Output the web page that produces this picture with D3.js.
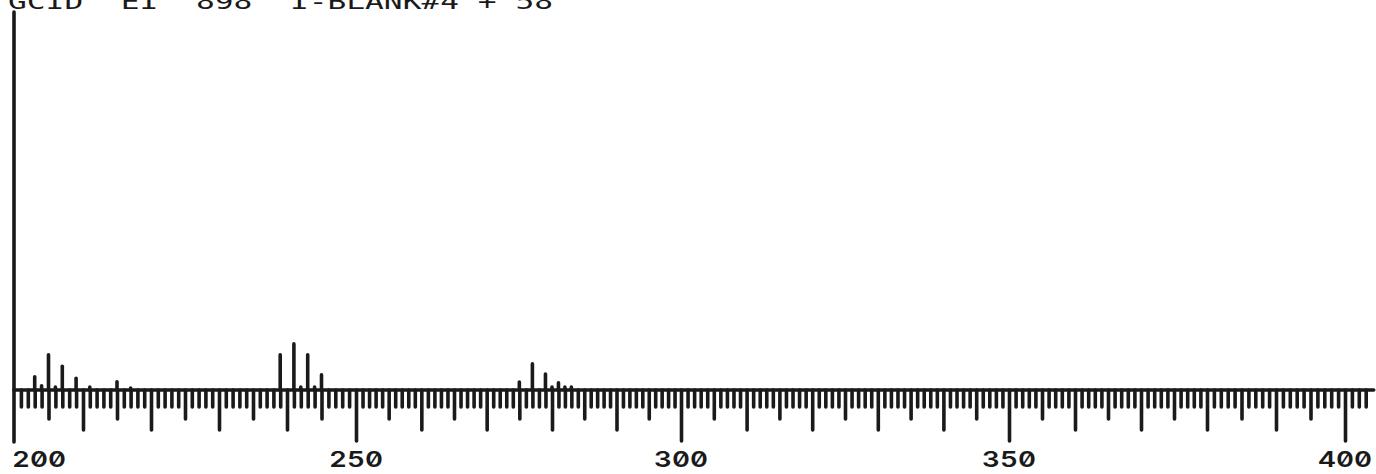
<!DOCTYPE html>
<html>
<head>
<meta charset="utf-8">
<script src="https://cdn.jsdelivr.net/npm/d3@7"></script>
<style>
  html, body { margin: 0; padding: 0; background: #fff; }
  svg { display: block; }
  .lbl { font-feature-settings: "zero" 1, "tnum" 1; }
</style>
</head>
<body>
<svg id="chart" width="1376" height="474"></svg>
<script>
// Mass spectrum, m/z 200-400, relative intensity in percent of full scale
const title = "GCID  EI  898  I-BLANK#4 + 58";
const masses = [203, 204, 205, 206, 207, 209, 211, 215, 217,
                239, 241, 242, 243, 244, 245,
                275, 277, 279, 280, 281, 282, 283];
const intensities = [3.5, 1.1, 9.3, 0.8, 6.3, 3.1, 0.8, 2.2, 0.5,
                     9.3, 12.2, 0.8, 9.3, 0.8, 4.0,
                     2.1, 6.9, 4.2, 0.8, 1.9, 0.8, 0.8];
const tickLabels = [200, 250, 300, 350, 400];

const svg = d3.select("#chart");
const ink = "#1a1a1a";
const baseY = 390;
const pen = 3.6;

// The plotter's x axis is not perfectly uniform; anchor it at several marks
const x = d3.scaleLinear()
  .domain([200, 210, 240, 250, 280, 300, 350, 380, 400])
  .range([14, 83, 287, 356, 552, 681, 1009, 1207, 1345]);

const y = d3.scaleLinear().domain([0, 100]).range([baseY, 12]);

// title, partly clipped by the top edge
svg.append("text")
  .attr("class", "lbl")
  .attr("x", 8).attr("y", 9)
  .attr("textLength", 545).attr("lengthAdjust", "spacingAndGlyphs")
  .style("white-space", "pre")
  .attr("font-family", "DejaVu Sans Mono, monospace")
  .attr("font-size", 22)
  .attr("fill", ink)
  .text(title);

// intensity axis (vertical line at m/z 200)
svg.append("line")
  .attr("x1", x(200)).attr("x2", x(200))
  .attr("y1", y(100)).attr("y2", 442)
  .attr("stroke", ink).attr("stroke-width", pen)
  .attr("stroke-linecap", "round");

// tick groups along the mass axis
const allMasses = d3.range(201, 404);
const groups = [
  { values: allMasses.filter(m => m % 5 !== 0), size: 17 },
  { values: allMasses.filter(m => m % 5 === 0 && m % 10 !== 0), size: 29 },
  { values: allMasses.filter(m => m % 10 === 0 && m % 50 !== 0), size: 40 },
  { values: allMasses.filter(m => m % 50 === 0), size: 51 }
];
groups.forEach(gdef => {
  const g = svg.append("g")
    .attr("transform", `translate(0,${baseY})`)
    .call(d3.axisBottom(x).tickValues(gdef.values).tickSize(gdef.size).tickFormat(""));
  g.select(".domain").remove();
  g.selectAll(".tick line")
    .attr("stroke", ink).attr("stroke-width", pen).attr("stroke-linecap", "round");
});

// baseline
svg.append("line")
  .attr("x1", x(200)).attr("x2", x(403) + 8)
  .attr("y1", baseY).attr("y2", baseY)
  .attr("stroke", ink).attr("stroke-width", pen)
  .attr("stroke-linecap", "round");

// spectrum peaks
svg.append("g").selectAll("line")
  .data(masses.map((m, i) => ({ m, v: intensities[i] })))
  .join("line")
  .attr("x1", d => x(d.m)).attr("x2", d => x(d.m))
  .attr("y1", baseY).attr("y2", d => y(d.v))
  .attr("stroke", ink).attr("stroke-width", pen)
  .attr("stroke-linecap", "round");

// mass labels
svg.append("g").selectAll("text")
  .data(tickLabels)
  .join("text")
  .attr("class", "lbl")
  .attr("x", (d, i) => i === 0 ? x(d) - 2 : x(d))
  .attr("y", 467)
  .attr("text-anchor", (d, i) => i === 0 ? "start" : "middle")
  .attr("textLength", 54).attr("lengthAdjust", "spacingAndGlyphs")
  .attr("font-family", "Inter, DejaVu Sans, sans-serif")
  .attr("font-size", 22)
  .attr("font-weight", 600)
  .attr("fill", ink)
  .text(d => d);
</script>
</body>
</html>
